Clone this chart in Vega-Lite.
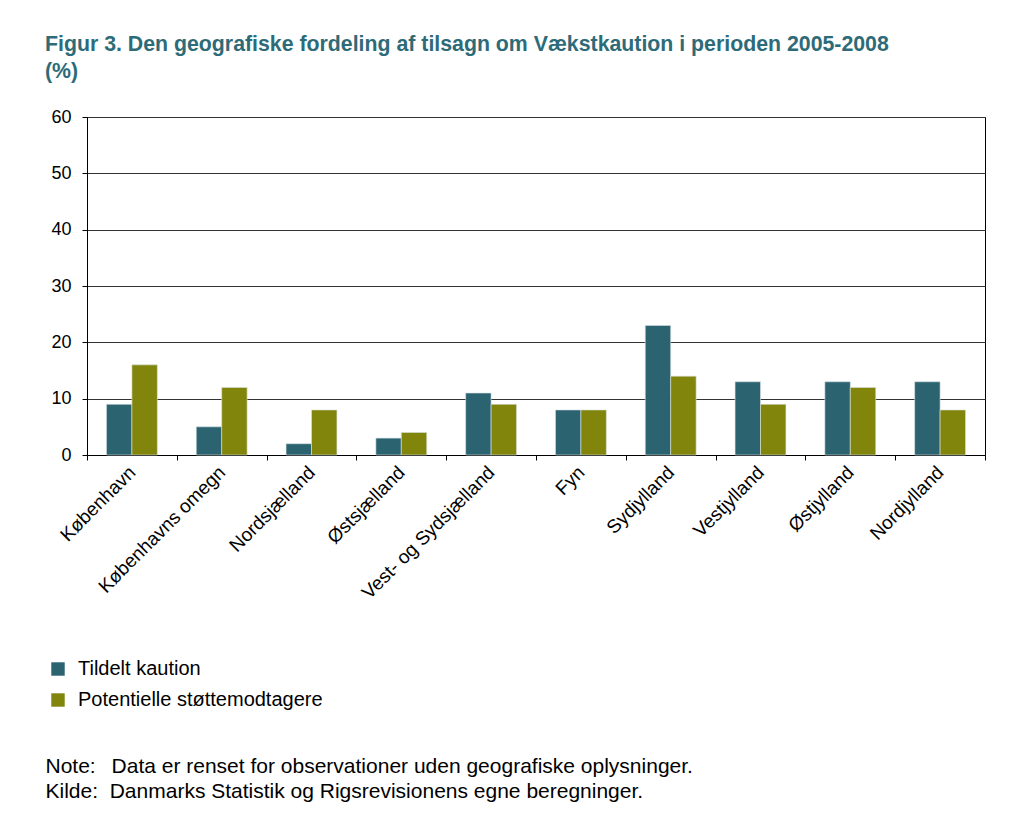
{
  "$schema": "https://vega.github.io/schema/vega-lite/v6.json",
  "autosize": {"type": "none"},
  "width": 898,
  "height": 338,
  "padding": {"left": 87, "top": 117, "right": 29, "bottom": 361},
  "background": "white",
  "title": {
    "text": ["Figur 3. Den geografiske fordeling af tilsagn om Vækstkaution i perioden 2005-2008", "(%)"],
    "anchor": "start",
    "frame": "group",
    "dx": -42,
    "offset": 26,
    "font": "Liberation Sans",
    "fontSize": 21.3,
    "fontWeight": "bold",
    "color": "#2E6B78",
    "lineHeight": 27
  },
  "data": {
    "values": [
      {"region": "København", "serie": "Tildelt kaution", "pct": 9},
      {"region": "København", "serie": "Potentielle støttemodtagere", "pct": 16},
      {"region": "Københavns omegn", "serie": "Tildelt kaution", "pct": 5},
      {"region": "Københavns omegn", "serie": "Potentielle støttemodtagere", "pct": 12},
      {"region": "Nordsjælland", "serie": "Tildelt kaution", "pct": 2},
      {"region": "Nordsjælland", "serie": "Potentielle støttemodtagere", "pct": 8},
      {"region": "Østsjælland", "serie": "Tildelt kaution", "pct": 3},
      {"region": "Østsjælland", "serie": "Potentielle støttemodtagere", "pct": 4},
      {"region": "Vest- og Sydsjælland", "serie": "Tildelt kaution", "pct": 11},
      {"region": "Vest- og Sydsjælland", "serie": "Potentielle støttemodtagere", "pct": 9},
      {"region": "Fyn", "serie": "Tildelt kaution", "pct": 8},
      {"region": "Fyn", "serie": "Potentielle støttemodtagere", "pct": 8},
      {"region": "Sydjylland", "serie": "Tildelt kaution", "pct": 23},
      {"region": "Sydjylland", "serie": "Potentielle støttemodtagere", "pct": 14},
      {"region": "Vestjylland", "serie": "Tildelt kaution", "pct": 13},
      {"region": "Vestjylland", "serie": "Potentielle støttemodtagere", "pct": 9},
      {"region": "Østjylland", "serie": "Tildelt kaution", "pct": 13},
      {"region": "Østjylland", "serie": "Potentielle støttemodtagere", "pct": 12},
      {"region": "Nordjylland", "serie": "Tildelt kaution", "pct": 13},
      {"region": "Nordjylland", "serie": "Potentielle støttemodtagere", "pct": 8}
    ]
  },
  "mark": {"type": "bar", "stroke": "#d8e4e4", "strokeWidth": 0.6},
  "encoding": {
    "x": {
      "field": "region",
      "type": "nominal",
      "sort": null,
      "scale": {"paddingInner": 0, "paddingOuter": 0},
      "axis": {
        "title": ["Note:\u00a0\u00a0\u2009Data er renset for observationer uden geografiske oplysninger.", "Kilde:\u00a0\u00a0Danmarks Statistik og Rigsrevisionens egne beregninger."],
        "titleAnchor": "start",
        "titleAlign": "left",
        "titleBaseline": "alphabetic",
        "titleX": -42,
        "titleY": 317,
        "titleFont": "Liberation Sans",
        "titleFontSize": 21,
        "titleFontWeight": "normal",
        "titleColor": "#000000",
        "titleLineHeight": 25,
        "labelAngle": -45,
        "labelAlign": "right",
        "labelBaseline": "middle",
        "labelPadding": 9,
        "labelFont": "Liberation Sans",
        "labelFontSize": 19,
        "labelColor": "#000000",
        "labelLimit": 300,
        "tickBand": "extent",
        "tickColor": "#000000",
        "tickSize": 5,
        "domainColor": "#000000",
        "grid": false
      }
    },
    "xOffset": {
      "field": "serie",
      "type": "nominal",
      "sort": ["Tildelt kaution", "Potentielle støttemodtagere"],
      "scale": {"paddingInner": 0, "paddingOuter": 0.765}
    },
    "y": {
      "field": "pct",
      "type": "quantitative",
      "scale": {"domain": [0, 60], "nice": false},
      "axis": {
        "title": null,
        "values": [0, 10, 20, 30, 40, 50, 60],
        "labelFont": "Liberation Sans",
        "labelFontSize": 18,
        "labelColor": "#000000",
        "labelPadding": 11,
        "tickColor": "#000000",
        "tickSize": 5,
        "domainColor": "#000000",
        "gridColor": "#333333",
        "gridWidth": 1
      }
    },
    "color": {
      "field": "serie",
      "type": "nominal",
      "sort": ["Tildelt kaution", "Potentielle støttemodtagere"],
      "scale": {"domain": ["Tildelt kaution", "Potentielle støttemodtagere"], "range": ["#2B6370", "#82850B"]},
      "legend": {
        "title": null,
        "orient": "none",
        "legendX": -39,
        "legendY": 542,
        "symbolType": "square",
        "symbolSize": 180,
        "symbolStrokeWidth": 0,
        "labelFont": "Liberation Sans",
        "labelFontSize": 20,
        "labelColor": "#000000",
        "labelOffset": 10,
        "labelLimit": 400,
        "rowPadding": 11
      }
    }
  },
  "config": {
    "view": {"stroke": "#000000", "strokeWidth": 1}
  }
}
